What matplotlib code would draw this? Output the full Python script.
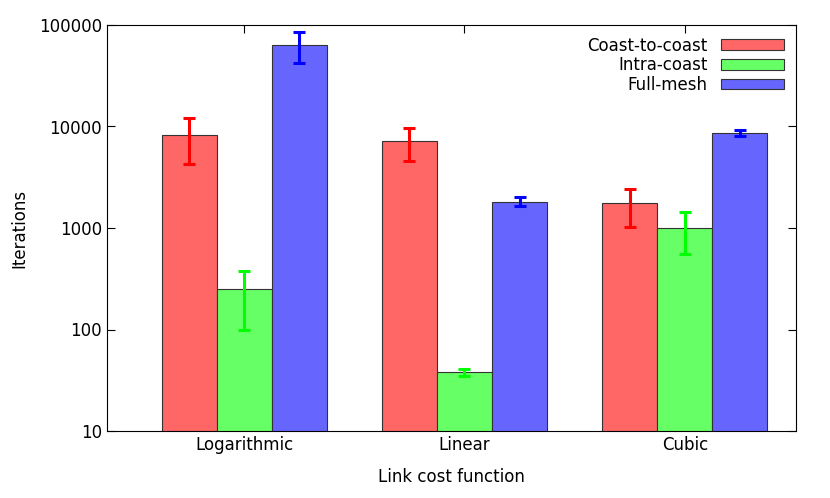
import matplotlib
matplotlib.use("Agg")
import matplotlib.pyplot as plt
import numpy as np

categories = ["Logarithmic", "Linear", "Cubic"]
series = ["Coast-to-coast", "Intra-coast", "Full-mesh"]
values = [[8300, 7200, 1750], [250, 38, 1000], [63000, 1820, 8600]]
err_low = [[4300, 4600, 1020], [100, 35, 560], [42000, 1650, 8100]]
err_high = [[12000, 9700, 2400], [380, 41, 1430], [85000, 2000, 9200]]
fill_colors = ["#ff6666", "#66ff66", "#6666ff"]
err_colors = ["#ff0000", "#00ff00", "#0000ff"]

fig = plt.figure(figsize=(8.3, 4.98), dpi=100)
ax = fig.add_axes([107/830, 1-431/498, (796-107)/830, (431-25)/498])
x = np.arange(len(categories))
w = 0.25
for i, s in enumerate(series):
    xs = x + (i-1)*w
    v = np.array(values[i]); lo = np.array(err_low[i]); hi = np.array(err_high[i])
    ax.bar(xs, v, w, color=fill_colors[i], edgecolor="#333333", linewidth=0.8, label=s, zorder=2)
    ax.errorbar(xs, v, yerr=[v-lo, hi-v], fmt="none", ecolor=err_colors[i], elinewidth=2.2, capsize=4, capthick=2.2, zorder=3)
ax.set_yscale("log")
ax.set_ylim(10, 100000)
ax.set_xlim(-0.623, 2.505)
ax.set_xticks(x)
ax.set_xticklabels(categories, fontsize=12)
ax.set_yticks([10, 100, 1000, 10000, 100000])
ax.set_yticklabels(["10", "100", "1000", "10000", "100000"], fontsize=12)
ax.minorticks_off()
ax.tick_params(direction="in", top=True, right=True, length=6)
ax.set_xlabel("Link cost function", fontsize=12, labelpad=10)
ax.set_ylabel("Iterations", fontsize=12, labelpad=8)
ax.legend(loc="upper right", frameon=False, markerfirst=False, fontsize=12,
          handlelength=3.8, handleheight=0.6, labelspacing=0.1, borderaxespad=0.3)
fig.savefig("out.png", dpi=100)
